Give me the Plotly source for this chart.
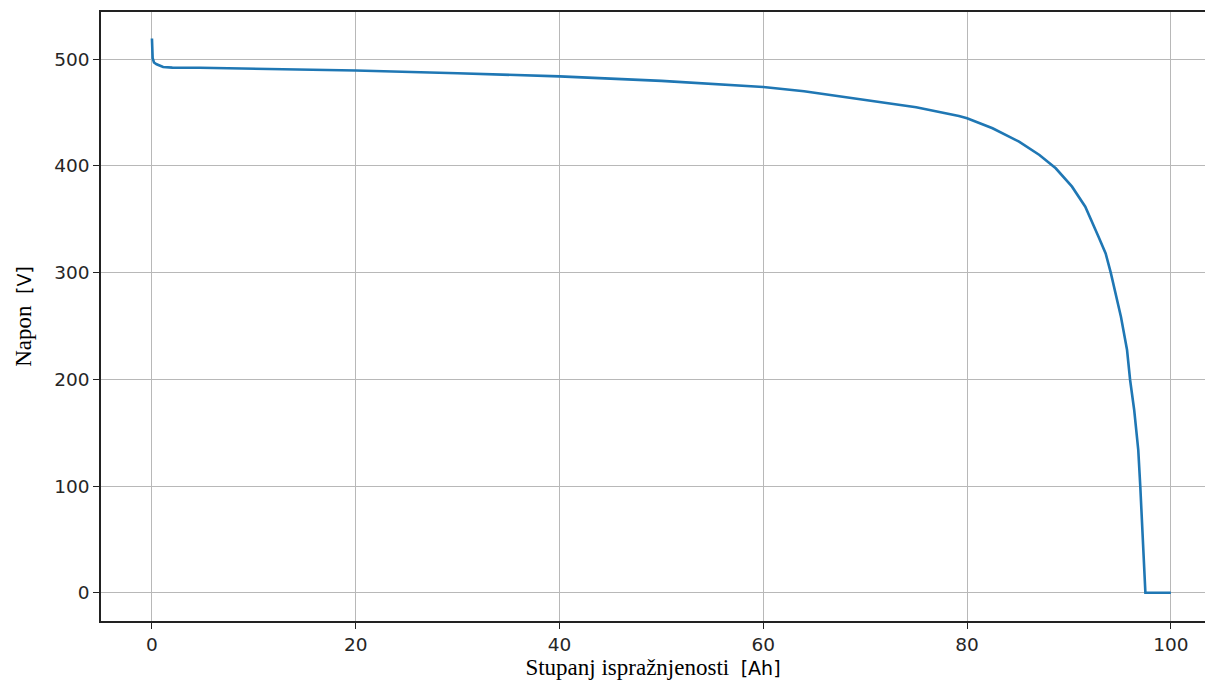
import plotly.graph_objects as go

# Discharge curve
capacity_ah = [0, 0.07, 0.2, 0.46, 1.1, 2, 4.7, 10, 20, 30, 40, 50, 60, 64, 68.4,
               75, 79.2, 80, 82.5, 85.1, 87.1, 88.7, 90.3, 91.6, 92.9, 93.6, 94.1,
               94.7, 95.1, 95.7, 96.0, 96.4, 96.8, 97.0, 97.5, 100]
voltage_v = [519.5, 501, 497, 495.3, 492.8, 492.2, 492.0, 491.2, 489.4, 486.9, 484.0,
             479.7, 474.0, 470.0, 464.0, 455.0, 446.8, 444.7, 435.3, 422.8, 410.3,
             397.8, 380.6, 361.8, 333.7, 318.0, 300.0, 274.0, 258.7, 227.5, 199.4,
             171.3, 133.8, 99.4, 0, 0]

x_ticks = [0, 20, 40, 60, 80, 100]
y_ticks = [0, 100, 200, 300, 400, 500]

fig = go.Figure()
fig.add_trace(go.Scatter(
    x=capacity_ah, y=voltage_v, mode="lines",
    line=dict(color="#1f77b4", width=2.6),
    showlegend=False,
))

tick_font = dict(family="DejaVu Sans", size=18.5, color="#262626")
title_font = dict(family="Liberation Serif", size=23, color="black")
sans_part = "font-family:DejaVu Sans;font-size:19px"

fig.update_layout(
    width=1197, height=680,
    margin=dict(l=93, r=0, t=4, b=67),
    paper_bgcolor="white", plot_bgcolor="white",
    xaxis=dict(
        range=[-5, 103.35], tickvals=x_ticks, ticktext=[str(v) for v in x_ticks],
        showgrid=True, gridcolor="#b8b8b8", gridwidth=1.3,
        showline=True, linecolor="#222222", linewidth=1.5, mirror=True,
        ticks="outside", ticklen=6, tickwidth=1.3, tickcolor="#222222",
        tickfont=tick_font, zeroline=False,
        title=dict(text=f"Stupanj ispražnjenosti  <span style='{sans_part}'>[Ah]</span>",
                   font=title_font, standoff=2),
    ),
    yaxis=dict(
        range=[-26.5, 544.3], tickvals=y_ticks, ticktext=[str(v) for v in y_ticks],
        showgrid=True, gridcolor="#b8b8b8", gridwidth=1.3,
        showline=True, linecolor="#222222", linewidth=1.5, mirror=False,
        ticks="outside", ticklen=6, tickwidth=1.3, tickcolor="#222222",
        tickfont=tick_font, zeroline=False,
        title=dict(text=f"Napon  <span style='{sans_part}'>[V]</span>",
                   font=title_font, standoff=16),
    ),
)

fig.write_html("out.html")
